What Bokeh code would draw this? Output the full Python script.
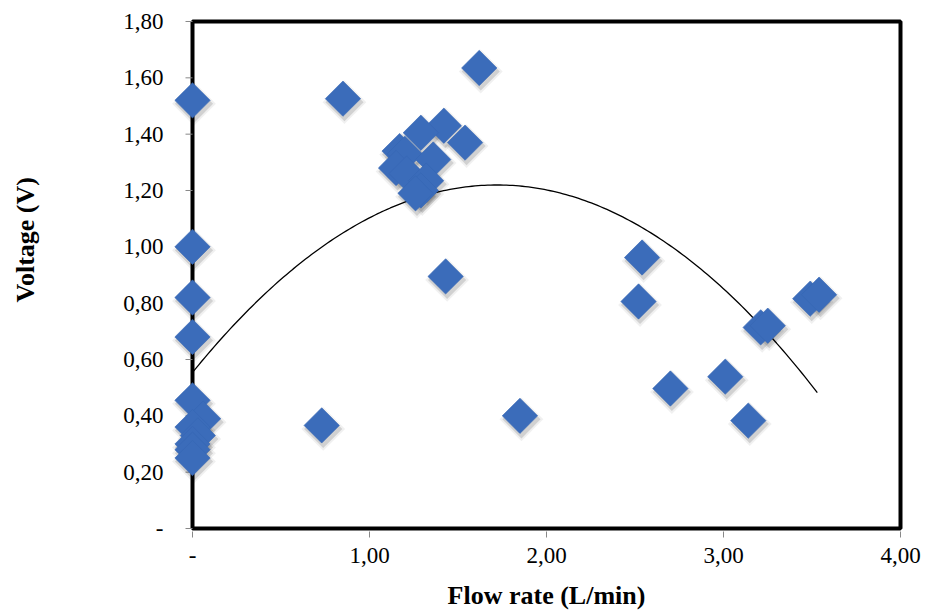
import numpy as np
from bokeh.plotting import figure
from bokeh.layouts import row, column
from bokeh.models import Range1d, FixedTicker, BoxAnnotation, ColumnDataSource, CustomJSTickFormatter
from bokeh.core.properties import value
from bokeh.embed import file_html
from bokeh.resources import INLINE

# ---- data ----
flow_rate = [0.00, 0.00, 0.00, 0.00, 0.00, 0.06, 0.00, 0.03, 0.00, 0.00, 0.00,
             0.73, 0.85, 1.62, 1.85, 1.43,
             1.42, 1.54, 1.29, 1.17, 1.20, 1.36, 1.15, 1.21, 1.32, 1.29, 1.26,
             2.54, 2.52, 2.70, 3.01, 3.14, 3.21, 3.25, 3.49, 3.54]
voltage = [1.52, 1.00, 0.82, 0.68, 0.455, 0.39, 0.36, 0.33, 0.30, 0.28, 0.25,
           0.366, 1.526, 1.635, 0.40, 0.895,
           1.43, 1.37, 1.405, 1.34, 1.33, 1.31, 1.28, 1.26, 1.235, 1.20, 1.19,
           0.962, 0.806, 0.497, 0.539, 0.383, 0.714, 0.72, 0.816, 0.83]

# 2nd-order polynomial trendline (a*x^2 + b*x + c)
trend_coef = [-0.225, 0.774, 0.554]
trend_x_end = 3.53

x_ticks = [0, 1, 2, 3, 4]
x_tick_labels = ["-", "1,00", "2,00", "3,00", "4,00"]
y_ticks = [0, 0.2, 0.4, 0.6, 0.8, 1.0, 1.2, 1.4, 1.6, 1.8]
y_tick_labels = ["-", "0,20", "0,40", "0,60", "0,80", "1,00", "1,20", "1,40", "1,60", "1,80"]
x_title = "Flow rate (L/min)"
y_title = "Voltage (V)"

# ---- layout constants (pixels, page coordinates) ----
W, H = 929, 615
LW = 60            # width of the left strip holding the y title
BH = 40            # height of the bottom strip holding the x title
MW, MH = W - LW, H - BH
PXX, PXY = 177.0, 281.7              # pixels per data unit
FL, FR, FT, FB = 170, 903, 18, 531   # frame edges (page coords)
X0, Y0 = 192, 528                    # page pixel of data origin

x_start = (FL - X0) / PXX
x_end = 4 + (FR - 900) / PXX
y_start = -(FB - Y0) / PXY
y_end = 1.8 + (21 - FT) / PXY

FONT = "Liberation Serif"

p = figure(width=MW, height=MH, output_backend="svg", toolbar_location=None,
           x_range=Range1d(x_start, x_end), y_range=Range1d(y_start, y_end),
           min_border_left=FL - LW, min_border_right=W - FR,
           min_border_top=FT, min_border_bottom=MH - FB)
p.outline_line_color = None
p.grid.visible = False
p.background_fill_color = "white"
p.border_fill_color = "white"

code = """
for (let i = 0; i < tv.length; i++) {
  if (Math.abs(tick - tv[i]) < 1e-6) return tl[i];
}
return "";
"""

# x axis
p.xaxis.ticker = FixedTicker(ticks=x_ticks)
p.xaxis.formatter = CustomJSTickFormatter(args=dict(tv=x_ticks, tl=x_tick_labels), code=code)
p.xaxis.axis_line_color = None
p.xaxis.major_tick_line_color = "#888888"
p.xaxis.major_tick_out = 6
p.xaxis.major_tick_in = 0
p.xaxis.minor_tick_line_color = None
p.xaxis.major_label_standoff = 10
p.xaxis.major_label_text_font = FONT
p.xaxis.major_label_text_font_size = "23px"
p.xaxis.major_label_text_color = "black"

# y axis
p.yaxis.ticker = FixedTicker(ticks=y_ticks)
p.yaxis.formatter = CustomJSTickFormatter(args=dict(tv=y_ticks, tl=y_tick_labels), code=code)
p.yaxis.axis_line_color = None
p.yaxis.major_tick_line_color = None
p.yaxis.minor_tick_line_color = None
p.yaxis.major_tick_out = 0
p.yaxis.major_tick_in = 0
p.yaxis.major_label_standoff = 7
p.yaxis.major_label_text_font = FONT
p.yaxis.major_label_text_font_size = "23px"
p.yaxis.major_label_text_color = "black"

# plot frame (drawn beneath the markers)
p.add_layout(BoxAnnotation(left=0, right=4, bottom=0, top=1.8, fill_alpha=0,
                           line_color="black", line_alpha=1, line_width=4, level="underlay"))

# y tick marks at x = 0
tick_len = 7 / PXX
p.segment(x0=[-tick_len] * len(y_ticks), x1=[0] * len(y_ticks), y0=y_ticks, y1=y_ticks,
          line_color="#888888", line_width=1)

# trendline
xt = np.linspace(min(flow_rate), trend_x_end, 200)
p.line(xt, np.polyval(trend_coef, xt), line_color="black", line_width=1.3)

# markers with soft shadow
sx, sy = 1.5 / PXX, -3.5 / PXY
shadow = ColumnDataSource(dict(x=[v + sx for v in flow_rate], y=[v + sy for v in voltage]))
p.scatter("x", "y", source=shadow, marker="square", angle=np.pi / 4, size=31,
          fill_color="black", fill_alpha=0.06, line_color=None)
p.scatter("x", "y", source=shadow, marker="square", angle=np.pi / 4, size=27,
          fill_color="black", fill_alpha=0.13, line_color=None)
src = ColumnDataSource(dict(x=flow_rate, y=voltage))
p.scatter("x", "y", source=src, marker="square", angle=np.pi / 4, size=25,
          fill_color="#3b6cba", line_color="#3566b4", line_width=0.6)


def strip(w, h):
    f = figure(width=w, height=h, output_backend="svg", toolbar_location=None,
               x_range=Range1d(0, w), y_range=Range1d(0, h),
               x_axis_type=None, y_axis_type=None,
               min_border=0, min_border_left=0, min_border_right=0,
               min_border_top=0, min_border_bottom=0)
    f.outline_line_color = None
    f.grid.visible = False
    f.background_fill_color = "white"
    f.border_fill_color = "white"
    return f


# y title strip (left)
yt = strip(LW, MH)
yt.text(x=[25], y=[MH - 248], text=[y_title], angle=np.pi / 2,
        text_font=value(FONT), text_font_size="26px", text_font_style="bold",
        text_align="center", text_baseline="middle", text_color="black")

# x title strip (bottom)
xtf = strip(W, BH)
xtf.text(x=[546], y=[H - 595], text=[x_title],
         text_font=value(FONT), text_font_size="26px", text_font_style="bold",
         text_align="center", text_baseline="middle", text_color="black")

layout = column(row(yt, p, spacing=0), xtf, spacing=0)
open("out.html", "w").write(file_html(layout, INLINE))
